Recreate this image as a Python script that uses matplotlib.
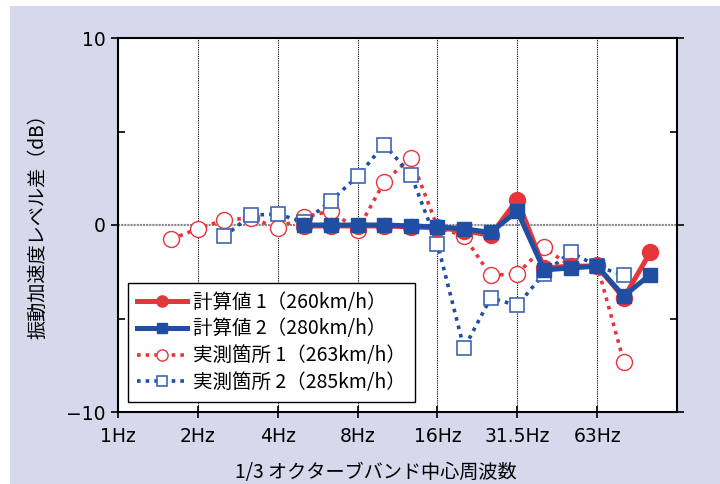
import numpy as np
import matplotlib
matplotlib.use("Agg")
import matplotlib.pyplot as plt
from matplotlib.patches import Rectangle

plt.rcParams['font.family'] = ['Noto Sans CJK JP', 'DejaVu Sans']

# 1/3 octave band centre frequencies (Hz)
bands = [1, 1.25, 1.6, 2, 2.5, 3.15, 4, 5, 6.3, 8, 10, 12.5,
         16, 20, 25, 31.5, 40, 50, 63, 80, 100, 125]
tick_freqs = [1, 2, 4, 8, 16, 31.5, 63]
tick_labels = ["1Hz", "2Hz", "4Hz", "8Hz", "16Hz", "31.5Hz", "63Hz"]

# calculated values, 5 Hz .. 100 Hz
calc_freqs = [5, 6.3, 8, 10, 12.5, 16, 20, 25, 31.5, 40, 50, 63, 80, 100]
calc1 = [-0.05, -0.05, -0.05, -0.05, -0.1, -0.15, -0.3, -0.55, 1.35, -2.3, -2.2, -2.2, -3.9, -1.45]
calc2 = [0.0, 0.0, 0.0, 0.0, -0.05, -0.1, -0.2, -0.4, 0.75, -2.4, -2.3, -2.2, -3.8, -2.65]

# measured, site 1: 1.6 Hz .. 80 Hz
meas1_freqs = [1.6, 2, 2.5, 3.15, 4, 5, 6.3, 8, 10, 12.5, 16, 20, 25, 31.5, 40, 50, 63, 80]
meas1 = [-0.75, -0.2, 0.27, 0.37, -0.16, 0.43, 0.75, -0.27, 2.3, 3.6, -0.1, -0.6,
         -2.7, -2.6, -1.2, -2.2, -2.15, -7.3]
# measured, site 2: 2.5 Hz .. 80 Hz
meas2_freqs = [2.5, 3.15, 4, 5, 6.3, 8, 10, 12.5, 16, 20, 25, 31.5, 40, 50, 63, 80]
meas2 = [-0.6, 0.53, 0.58, 0.16, 1.3, 2.6, 4.3, 2.7, -1.0, -6.6, -3.9, -4.3,
         -2.6, -1.45, -2.2, -2.7]


def band_index(freqs):
    return [bands.index(f) for f in freqs]


red = "#e8343b"
blue = "#1f4ea3"
blue_open = "#3d66b5"

fig = plt.figure(figsize=(7.2, 4.84), dpi=100, facecolor="white")
fig.patches.append(Rectangle((10 / 720, 0), 1, 1 - 6 / 484, transform=fig.transFigure,
                             facecolor="#d7d8ec", edgecolor="none", zorder=-10))
ax = fig.add_axes([118 / 720, 72 / 484, 559 / 720, 374 / 484])
ax.set_facecolor("white")

# grid
for f in tick_freqs[1:]:
    ax.axvline(bands.index(f), color="black", lw=0.8, ls=(0, (1, 1)), zorder=1)
ax.axhline(0, color="#888888", lw=1.5, ls=(0, (1, 0.5)), zorder=1)

ax.plot(band_index(meas1_freqs), meas1, color=red, lw=2.6, ls=(0, (1, 1.4)),
        marker="o", ms=11.5, mfc="white", mec=red, mew=1.0,
        label="実測箇所 1（263km/h）", zorder=3)
ax.plot(band_index(meas2_freqs), meas2, color=blue, lw=2.6, ls=(0, (1, 1.4)),
        marker="s", ms=10.5, mfc="white", mec=blue_open, mew=1.2,
        label="実測箇所 2（285km/h）", zorder=3)
ax.plot(band_index(calc_freqs), calc1, color=red, lw=3.6, marker="o", ms=11.5,
        mfc=red, mec=red, label="計算値 1（260km/h）", zorder=4)
ax.plot(band_index(calc_freqs), calc2, color=blue, lw=3.6, marker="s", ms=10,
        mfc=blue, mec=blue, label="計算値 2（280km/h）", zorder=5)

ax.set_xlim(0, 21)
ax.set_ylim(-10, 10)
ax.set_xticks(band_index(tick_freqs))
ax.set_xticklabels(tick_labels, fontsize=13.5, family=['DejaVu Sans'])
ax.set_yticks([-10, 0, 10])
ax.set_yticklabels(["\u221210", "0", "10"], fontsize=13.5, family=['DejaVu Sans'])
ax.set_yticks([-5, 5], minor=True)
ax.tick_params(axis="x", direction="inout", length=8, width=1.2, pad=7, colors="black")
ax.tick_params(axis="y", which="both", direction="in", length=5, width=1.2,
               right=True, labelright=False)
ax.tick_params(axis="y", which="major", direction="out", length=5, pad=4)
for s in ax.spines.values():
    s.set_linewidth(1.5)

ax.set_xlabel("1/3 オクターブバンド中心周波数", fontsize=13.8)
ax.xaxis.set_label_coords(0.462, -0.135)
ax.set_ylabel("振動加速度レベル差（dB）", fontsize=13.8)
ax.yaxis.set_label_coords(-0.125, 0.51)

handles, labels = ax.get_legend_handles_labels()
order = [2, 3, 0, 1]
leg = ax.legend([handles[i] for i in order], [labels[i] for i in order],
                loc="lower left", bbox_to_anchor=(0.018, 0.027), fontsize=14,
                fancybox=False, edgecolor="black", framealpha=1,
                handlelength=2.6, handletextpad=0.3, labelspacing=0.3,
                borderpad=0.45, borderaxespad=0, markerscale=0.7)
leg.get_frame().set_linewidth(1.0)

fig.savefig("out.png", dpi=100, facecolor=fig.get_facecolor())
